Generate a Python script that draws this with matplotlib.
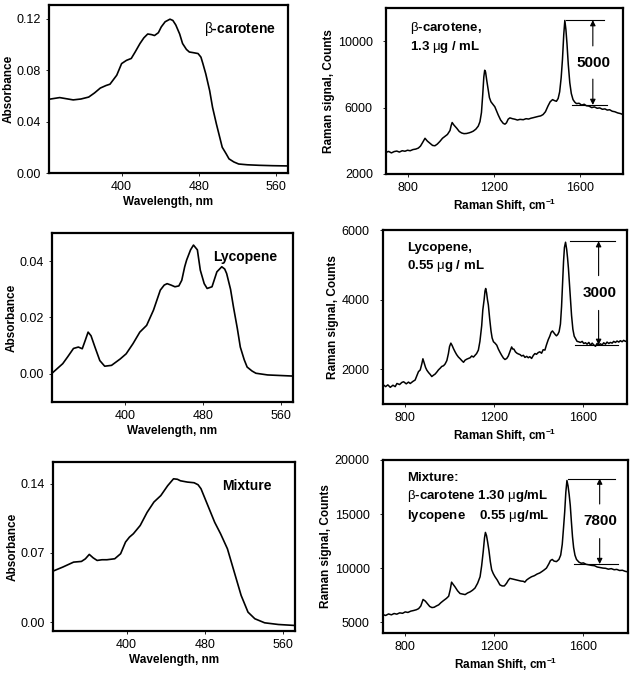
import matplotlib
matplotlib.use("Agg")
import matplotlib.pyplot as plt

plt.rcParams['font.family'] = ['Liberation Sans', 'DejaVu Sans']
plt.rcParams['mathtext.fontset'] = 'custom'
plt.rcParams['mathtext.rm'] = 'Liberation Sans'
plt.rcParams['mathtext.bf'] = 'Liberation Sans:bold'
plt.rcParams['mathtext.default'] = 'regular'

# ---- UV-Vis absorbance ----
bc_wl = [325, 336, 350, 358, 366, 372, 378, 384, 388, 395, 400, 405, 410, 414, 419,
         423, 427, 431, 434, 438, 441, 445, 450, 453, 456, 460, 463, 467, 470, 474,
         479, 482, 484, 487, 491, 494, 498, 501, 504, 508, 511, 516, 521, 530, 542, 556, 572]
bc_abs = [0.0573, 0.0586, 0.0568, 0.0575, 0.0590, 0.0622, 0.0660, 0.0680, 0.0690, 0.0760,
          0.0850, 0.0875, 0.0890, 0.0940, 0.1006, 0.1050, 0.1080, 0.1075, 0.1068, 0.1090,
          0.1135, 0.1175, 0.1195, 0.1185, 0.1150, 0.1080, 0.1006, 0.0960, 0.0940, 0.0935,
          0.0928, 0.0900, 0.0850, 0.0770, 0.0640, 0.0510, 0.0380, 0.0290, 0.0200, 0.0150,
          0.0110, 0.0086, 0.0070, 0.0064, 0.0060, 0.0057, 0.0055]

ly_wl = [325, 336, 341, 347, 352, 356, 359, 362, 365, 369, 374, 379, 386, 395, 401,
         408, 415, 422, 429, 436, 440, 443, 447, 451, 455, 458, 461, 463, 467, 470,
         474, 477, 481, 484, 489, 494, 499, 502, 504, 508, 511, 515, 518, 522, 525,
         530, 534, 546, 559, 572]
ly_abs = [0.0002, 0.0036, 0.0060, 0.0090, 0.0095, 0.0089, 0.0118, 0.0148, 0.0135, 0.0095,
          0.0047, 0.0027, 0.0030, 0.0053, 0.0071, 0.0107, 0.0148, 0.0172, 0.0226, 0.0297,
          0.0315, 0.0320, 0.0315, 0.0309, 0.0312, 0.0332, 0.0380, 0.0404, 0.0440, 0.0457,
          0.0440, 0.0368, 0.0320, 0.0303, 0.0309, 0.0362, 0.0380, 0.0372, 0.0356, 0.0300,
          0.0237, 0.0160, 0.0095, 0.0050, 0.0024, 0.0010, 0.0002, -0.0004, -0.0006, -0.0008]

mx_wl = [325, 335, 346, 354, 358, 362, 366, 370, 375, 380, 388, 394, 399, 403, 407,
         414, 421, 428, 435, 442, 448, 452, 455, 462, 469, 473, 476, 483, 490, 496,
         503, 510, 517, 524, 531, 541, 555, 572]
mx_abs = [0.0516, 0.0557, 0.0607, 0.0614, 0.0640, 0.0685, 0.0650, 0.0624, 0.0631, 0.0631,
          0.0641, 0.0692, 0.0810, 0.0860, 0.0894, 0.0978, 0.1110, 0.1215, 0.1280, 0.1380,
          0.1450, 0.1445, 0.1430, 0.1417, 0.1410, 0.1390, 0.1350, 0.1180, 0.1010, 0.0894,
          0.0742, 0.0506, 0.0270, 0.0101, 0.0034, -0.0007, -0.0024, -0.0034]

# ---- Raman spectra ----
bc_shift = [700, 712, 725, 738, 750, 762, 775, 788, 800, 812, 825, 838, 850, 860, 870,
            881, 892, 904, 916, 927, 938, 950, 962, 973, 985, 997, 1002, 1007, 1015, 1028,
            1040, 1051, 1062, 1074, 1086, 1095, 1105, 1117, 1128, 1136, 1143, 1149, 1154, 1158, 1162,
            1168, 1174, 1180, 1187, 1196, 1205, 1213, 1221, 1232, 1244, 1252, 1259, 1267, 1275, 1287,
            1298, 1310, 1322, 1337, 1350, 1362, 1373, 1383, 1395, 1407, 1418, 1429, 1440, 1452, 1462,
            1473, 1482, 1491, 1499, 1506, 1513, 1519, 1525, 1530, 1535, 1540, 1546, 1553, 1560, 1568,
            1576, 1584, 1596, 1608, 1620, 1630, 1642, 1655, 1667, 1680, 1692, 1704, 1716, 1727, 1738,
            1750, 1762, 1775, 1788, 1800]
bc_counts = [3300, 3360, 3270, 3350, 3380, 3320, 3400, 3370, 3430, 3400, 3470, 3500, 3560, 3680, 3900,
             4150, 3980, 3850, 3720, 3700, 3800, 3960, 4150, 4260, 4380, 4620, 4900, 5100, 4950, 4760,
             4560, 4470, 4430, 4440, 4480, 4520, 4580, 4700, 4880, 5150, 5700, 6800, 7850, 8250, 8150,
             7600, 7100, 6600, 6350, 6200, 6050, 5800, 5550, 5250, 5050, 5000, 5080, 5300, 5380, 5330,
             5300, 5250, 5290, 5270, 5330, 5310, 5360, 5390, 5430, 5470, 5500, 5580, 5750, 6100, 6350,
             6480, 6420, 6380, 6550, 6950, 7800, 8900, 10400, 11250, 10700, 9850, 8600, 7500, 6850, 6480,
             6330, 6240, 6260, 6150, 6200, 6110, 6090, 6000, 6040, 5960, 5980, 5900, 5920, 5850, 5870,
             5780, 5750, 5680, 5640, 5580]

ly_shift = [700, 712, 722, 733, 745, 755, 763, 775, 785, 793, 805, 815, 823, 835, 845,
            855, 860, 868, 875, 880, 885, 892, 898, 906, 913, 920, 928, 935, 943, 950,
            958, 965, 973, 980, 988, 995, 1000, 1006, 1012, 1018, 1025, 1032, 1040, 1048, 1055,
            1063, 1070, 1078, 1085, 1093, 1100, 1108, 1115, 1122, 1130, 1137, 1145, 1150, 1156, 1160,
            1163, 1167, 1171, 1175, 1181, 1187, 1192, 1198, 1205, 1213, 1220, 1228, 1235, 1243, 1250,
            1258, 1265, 1272, 1280, 1285, 1290, 1297, 1304, 1310, 1318, 1325, 1333, 1340, 1348, 1355,
            1362, 1370, 1378, 1385, 1392, 1400, 1407, 1415, 1422, 1430, 1437, 1445, 1452, 1458, 1464,
            1470, 1476, 1482, 1488, 1494, 1500, 1505, 1510, 1514, 1518, 1523, 1528, 1532, 1536, 1541,
            1546, 1550, 1556, 1562, 1568, 1575, 1582, 1590, 1598, 1605, 1613, 1620, 1628, 1636, 1643,
            1650, 1658, 1665, 1672, 1680, 1688, 1695, 1703, 1710, 1718, 1725, 1733, 1740, 1748, 1755,
            1763, 1770, 1778, 1785, 1793, 1800]
ly_counts = [1560, 1500, 1550, 1480, 1540, 1500, 1590, 1560, 1620, 1640, 1580, 1630, 1590, 1650, 1690,
             1850, 1930, 1980, 2150, 2300, 2200, 2050, 1970, 1900, 1850, 1790, 1830, 1860, 1920, 1980,
             2030, 2080, 2100, 2150, 2250, 2450, 2650, 2750, 2680, 2590, 2500, 2420, 2350, 2300, 2250,
             2200, 2260, 2290, 2310, 2330, 2380, 2350, 2400, 2450, 2550, 2800, 3250, 3700, 4000, 4250,
             4320, 4200, 4000, 3850, 3450, 3100, 2900, 2790, 2750, 2690, 2580, 2480, 2400, 2320, 2280,
             2310, 2380, 2500, 2640, 2580, 2580, 2500, 2460, 2440, 2420, 2380, 2400, 2340, 2370, 2330,
             2360, 2310, 2400, 2450, 2430, 2480, 2500, 2460, 2560, 2550, 2700, 2850, 2950, 3060, 3100,
             3050, 3000, 2960, 3000, 3080, 3300, 3800, 4500, 5100, 5500, 5650, 5450, 5200, 4900, 4400,
             3900, 3550, 3150, 2950, 2880, 2800, 2790, 2770, 2800, 2740, 2760, 2720, 2770, 2690, 2750,
             2700, 2660, 2740, 2690, 2730, 2700, 2760, 2720, 2780, 2740, 2770, 2750, 2800, 2770, 2810,
             2780, 2820, 2790, 2830, 2800, 2820]

mx_shift = [700, 712, 725, 738, 750, 762, 775, 788, 800, 812, 825, 838, 850, 860, 870,
            880, 890, 900, 910, 920, 930, 940, 950, 960, 972, 985, 995, 1002, 1008, 1015,
            1024, 1035, 1046, 1057, 1069, 1080, 1091, 1102, 1113, 1125, 1136, 1143, 1150, 1156, 1160,
            1165, 1170, 1176, 1182, 1188, 1195, 1203, 1213, 1225, 1235, 1245, 1255, 1262, 1270, 1280,
            1290, 1300, 1310, 1320, 1330, 1337, 1345, 1355, 1367, 1380, 1392, 1404, 1415, 1425, 1434,
            1445, 1452, 1460, 1468, 1479, 1490, 1498, 1505, 1511, 1516, 1521, 1526, 1531, 1536, 1541,
            1546, 1551, 1556, 1562, 1569, 1580, 1590, 1600, 1612, 1625, 1637, 1650, 1662, 1675, 1688,
            1700, 1712, 1725, 1738, 1750, 1762, 1775, 1788, 1800]
mx_counts = [5700, 5620, 5760, 5680, 5800, 5740, 5860, 5820, 5950, 5900, 6020, 6080, 6150, 6250, 6500,
             7100, 6950, 6700, 6450, 6350, 6380, 6500, 6600, 6800, 7000, 7200, 7400, 8000, 8700, 8500,
             8250, 7900, 7650, 7600, 7550, 7700, 7800, 7950, 8150, 8600, 9200, 10200, 11500, 12800, 13300,
             13000, 12400, 11600, 10600, 9850, 9500, 9200, 8900, 8450, 8350, 8350, 8600, 8850, 9050, 9000,
             8950, 8900, 8850, 8800, 8780, 8700, 8900, 9050, 9200, 9300, 9450, 9550, 9700, 9850, 10000,
             10400, 10700, 10800, 10650, 10600, 10800, 11200, 12200, 13800, 15200, 17000, 18100, 17600, 16800, 15800,
             14300, 12900, 11900, 11200, 10800, 10550, 10450, 10480, 10350, 10300, 10250, 10220, 10100, 10050, 10000,
             9980, 9900, 9950, 9850, 9880, 9780, 9800, 9700, 9650]

fig = plt.figure(figsize=(6.35, 6.78), dpi=100)


def estilo(ax):
    for s in ax.spines.values():
        s.set_linewidth(1.6)
    ax.tick_params(labelsize=9, length=2.5, width=0.6, direction='out')


def painel_uv(pos, wl, ab, ylim, yticks, yfmt, nome):
    ax = fig.add_axes(pos)
    ax.plot(wl, ab, color='black', lw=1.2)
    ax.set_xlim(325, 572)
    ax.set_ylim(*ylim)
    ax.set_xticks([400, 480, 560])
    ax.set_yticks(yticks)
    ax.set_yticklabels([yfmt.format(v) for v in yticks])
    ax.set_xlabel("Wavelength, nm", fontsize=8.5, fontweight='bold', labelpad=2)
    ax.set_ylabel("Absorbance", fontsize=8.5, fontweight='bold', labelpad=1)
    ax.text(0.8, 0.86, nome, transform=ax.transAxes, ha='center', va='center',
            fontsize=10, fontweight='bold')
    estilo(ax)
    return ax


def painel_raman(pos, x, y, ylim, yticks, texto, topo, base, xseta, x0, x1, rotulo):
    ax = fig.add_axes(pos)
    ax.plot(x, y, color='black', lw=1.1)
    ax.set_xlim(700, 1800)
    ax.set_ylim(*ylim)
    ax.set_xticks([800, 1200, 1600])
    ax.set_yticks(yticks)
    ax.set_xlabel(r"Raman Shift, cm$^{\mathbf{-1}}$", fontsize=8.5, fontweight='bold', labelpad=2)
    ax.set_ylabel("Raman signal, Counts", fontsize=8.5, fontweight='bold', labelpad=2)
    ax.text(0.1, 0.93, texto, transform=ax.transAxes, ha='left', va='top',
            fontsize=9.5, fontweight='bold', linespacing=1.35)
    # marcação da altura do pico
    ax.plot([x0, x1], [topo, topo], color='black', lw=0.8)
    ax.plot([x0 + 25, x1 + 15], [base, base], color='black', lw=0.8)
    meio = (topo + base) / 2
    faixa = (ylim[1] - ylim[0]) * 0.1
    ax.annotate("", xy=(xseta, topo), xytext=(xseta, meio + faixa),
                arrowprops=dict(arrowstyle='-|>', color='black', lw=0.8, mutation_scale=8,
                                shrinkA=0, shrinkB=0))
    ax.annotate("", xy=(xseta, base), xytext=(xseta, meio - faixa),
                arrowprops=dict(arrowstyle='-|>', color='black', lw=0.8, mutation_scale=8,
                                shrinkA=0, shrinkB=0))
    ax.text(xseta + 5, meio, rotulo, ha='center', va='center', fontsize=11, fontweight='bold')
    estilo(ax)
    ax.tick_params(axis='y', pad=7)
    return ax


painel_uv([0.0772, 0.7448, 0.3764, 0.2478], bc_wl, bc_abs, (0, 0.1305),
          [0.0, 0.04, 0.08, 0.12], "{:.2f}", r"$\mathrm{\beta}$-carotene")
painel_uv([0.0819, 0.4071, 0.3795, 0.2493], ly_wl, ly_abs, (-0.01, 0.05),
          [0.0, 0.02, 0.04], "{:.2f}", "Lycopene")
painel_uv([0.0835, 0.0693, 0.3811, 0.2493], mx_wl, mx_abs, (-0.009, 0.162),
          [0.0, 0.07, 0.14], "{:.2f}", "Mixture")

painel_raman([0.6079, 0.7434, 0.3732, 0.2448], bc_shift, bc_counts, (2000, 12000),
             [2000, 6000, 10000], "$\\mathrm{\\beta}$-carotene,\n1.3 $\\mathrm{\\mu}$g / mL",
             11270, 6160, 1660, 1537, 1712, "5000")
painel_raman([0.6031, 0.4041, 0.3843, 0.2566], ly_shift, ly_counts, (1000, 6000),
             [2000, 4000, 6000], "Lycopene,\n0.55 $\\mathrm{\\mu}$g / mL",
             5680, 2700, 1672, 1542, 1745, "3000")
painel_raman([0.6031, 0.0664, 0.3858, 0.2552], mx_shift, mx_counts, (4000, 20000),
             [5000, 10000, 15000, 20000],
             "Mixture:\n$\\mathrm{\\beta}$-carotene 1.30 $\\mathrm{\\mu}$g/mL\nlycopene    0.55 $\\mathrm{\\mu}$g/mL",
             18280, 10375, 1673, 1531, 1740, "7800")

fig.savefig("out.png", dpi=100)
